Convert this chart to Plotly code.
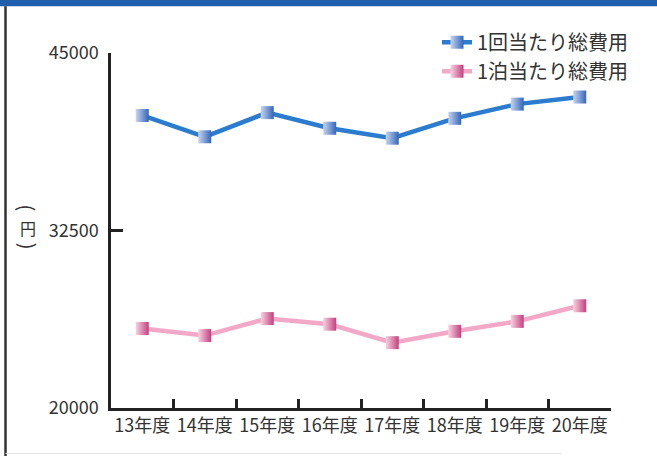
import plotly.graph_objects as go

# Fiscal years on the x axis
years = ["13年度", "14年度", "15年度", "16年度", "17年度", "18年度", "19年度", "20年度"]

# Total cost per visit / per overnight stay (yen)
cost_per_visit = [40600, 39100, 40800, 39700, 39000, 40400, 41400, 41900]
cost_per_night = [25600, 25100, 26300, 25900, 24600, 25400, 26100, 27200]

y_ticks = [20000, 32500, 45000]

# Vertical unit label: (text, paper y, font size, rotation)
unit_parts = [("(", 0.565, 20, 90), ("円", 0.507, 16, 0), (")", 0.457, 20, 90)]

FONT = "Noto Sans CJK JP"

fig = go.Figure()

fig.add_trace(go.Scatter(
    x=years, y=cost_per_visit, name="1回当たり総費用",
    mode="lines+markers",
    line=dict(color="#2b7ccf", width=4.5),
    marker=dict(symbol="square", size=13, color="#c8d5ef",
                gradient=dict(type="horizontal", color="#3366bb"),
                line=dict(width=0)),
))
fig.add_trace(go.Scatter(
    x=years, y=cost_per_night, name="1泊当たり総費用",
    mode="lines+markers",
    line=dict(color="#f2a8c6", width=4.5),
    marker=dict(symbol="square", size=13, color="#f9d3e2",
                gradient=dict(type="horizontal", color="#c2407f"),
                line=dict(width=0)),
))

# Page frame: blue band along the top, dark rule down the left side
fig.add_shape(type="rect", xref="paper", yref="paper",
              x0=-0.23, x1=1.1, y0=1.132, y1=1.16,
              fillcolor="#1f5fae", line=dict(width=0), layer="below")
fig.add_shape(type="line", xref="paper", yref="paper",
              x0=-0.211, x1=-0.211, y0=-0.135, y1=1.132,
              line=dict(color="#333333", width=2.5))
fig.add_shape(type="line", xref="paper", yref="paper",
              x0=-0.211, x1=0.9, y0=-0.128, y1=-0.128,
              line=dict(color="#e4e4e4", width=1))

# Unit label stacked vertically beside the y axis (parentheses turned sideways)
for t, yy, sz, ang in unit_parts:
    fig.add_annotation(xref="paper", yref="paper", x=-0.166, y=yy,
                       xanchor="center", yanchor="middle",
                       text=t, showarrow=False, textangle=ang,
                       font=dict(family=FONT, size=sz, color="#333333"))

fig.update_layout(
    width=657, height=459,
    margin=dict(l=111, r=46, t=53, b=51, autoexpand=False),
    paper_bgcolor="white", plot_bgcolor="white",
    font=dict(family=FONT, color="#333333"),
    showlegend=True,
    legend=dict(x=0.652, y=1.085, xanchor="left", yanchor="top",
                bgcolor="rgba(0,0,0,0)",
                font=dict(family=FONT, size=20, color="#333333"),
                tracegroupgap=0),
    xaxis=dict(
        type="category", tickson="boundaries", tickangle=0,
        ticks="inside", ticklen=9, tickwidth=2.5, tickcolor="#222222",
        showline=True, linecolor="#222222", linewidth=2.5,
        showgrid=False, zeroline=False, automargin=False,
        tickfont=dict(family=FONT, size=18, color="#333333"),
        range=[-0.5, 7.5],
    ),
    yaxis=dict(
        range=[20000, 45000], tickvals=y_ticks,
        ticktext=[str(v) for v in y_ticks],
        ticks="inside", ticklen=12, tickwidth=2.5, tickcolor="#222222",
        showline=True, linecolor="#222222", linewidth=2.5,
        showgrid=False, zeroline=False, automargin=False,
        tickfont=dict(family=FONT, size=18, color="#333333"),
        ticklabelstandoff=6,
    ),
)

fig.write_html("out.html")
